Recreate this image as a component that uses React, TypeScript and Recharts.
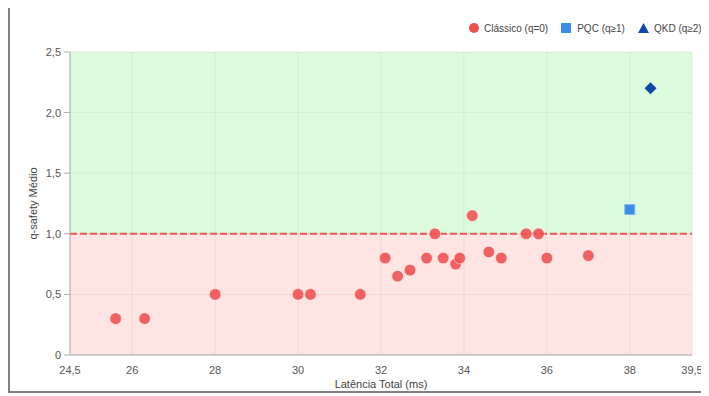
import React from 'react';
import {
  ScatterChart,
  Scatter,
  XAxis,
  YAxis,
  ZAxis,
  CartesianGrid,
  ReferenceArea,
} from 'recharts';

// latency (ms) / average q-safety
const classicLatency = [25.6, 26.3, 28.0, 30.0, 30.3, 31.5, 32.1, 32.4, 32.7, 33.1, 33.3, 33.5, 33.8, 33.9, 34.2, 34.6, 34.9, 35.5, 35.8, 36.0, 37.0];
const classicQ = [0.3, 0.3, 0.5, 0.5, 0.5, 0.5, 0.8, 0.65, 0.7, 0.8, 1.0, 0.8, 0.75, 0.8, 1.15, 0.85, 0.8, 1.0, 1.0, 0.8, 0.82];
const pqcLatency = [38.0];
const pqcQ = [1.2];
const qkdLatency = [38.5];
const qkdQ = [2.2];

const xDomain = [24.5, 39.5];
const yDomain = [0, 2.5];
const xTicks = [24.5, 26, 28, 30, 32, 34, 36, 38, 39.5];
const xTickLabels = ['24,5', '26', '28', '30', '32', '34', '36', '38', '39,5'];
const yTicks = [0, 0.5, 1, 1.5, 2, 2.5];
const yTickLabels = ['0', '0,5', '1,0', '1,5', '2,0', '2,5'];

const seriesNames = ['Clássico (q=0)', 'PQC (q≥1)', 'QKD (q≥2)'];
const threshold = 1;

const toPoints = (xs: number[], ys: number[]) => xs.map((x, i) => ({ x, y: ys[i] }));
// dashed threshold drawn as a line-only scatter so it sits above the shaded bands
const thresholdLine = xDomain.map((x) => ({ x, y: threshold }));

const RED = '#f04e4e';
const LINE_RED = '#f25555';
const BLUE = '#3a8ee8';
const NAVY = '#0d47a8';
const FONT = '"Liberation Sans", Arial, Helvetica, sans-serif';

const Dot = (props: any) => (
  <circle cx={props.cx} cy={props.cy} r={5.8} fill={RED} fillOpacity={0.88} stroke="#ffffff" strokeOpacity={0.5} strokeWidth={1} />
);
const Square = (props: any) => (
  <rect x={props.cx - 5} y={props.cy - 5} width={10} height={10} fill={BLUE} stroke="#7db4f0" strokeWidth={0.8} />
);
const Diamond = (props: any) => {
  const { cx, cy } = props;
  const r = 6;
  return <polygon points={`${cx},${cy - r} ${cx + r},${cy} ${cx},${cy + r} ${cx - r},${cy}`} fill={NAVY} />;
};
const NoMark = () => <g />;

function LegendBox() {
  const text = { fontSize: 10, color: '#444', fontFamily: FONT, marginLeft: 5, whiteSpace: 'nowrap' as const };
  return (
    <div style={{ position: 'absolute', left: 459, top: 13, display: 'flex', alignItems: 'center', height: 14, width: 250 }}>
      <svg width={10} height={10} style={{ flexShrink: 0 }}><circle cx={5} cy={5} r={5} fill={RED} /></svg>
      <span style={text}>{seriesNames[0]}</span>
      <svg width={10} height={10} style={{ marginLeft: 13, flexShrink: 0 }}><rect x={0} y={0} width={10} height={10} fill={BLUE} /></svg>
      <span style={{ ...text, marginLeft: 6 }}>{seriesNames[1]}</span>
      <svg width={11} height={10} style={{ marginLeft: 13, flexShrink: 0 }}><polygon points="5.5,0 11,10 0,10" fill={NAVY} /></svg>
      <span style={text}>{seriesNames[2]}</span>
    </div>
  );
}

export default function App() {
  const tick = { fontSize: 11, fill: '#555', fontFamily: FONT };
  return (
    <div
      style={{
        position: 'relative',
        marginTop: -2,
        width: 699,
        height: 383,
        borderTop: '2px solid #808080',
        borderLeft: '2px solid #808080',
        borderBottom: '2px solid #808080',
        background: '#fff',
        fontFamily: FONT,
        overflow: 'hidden',
      }}
    >
      <ScatterChart width={699} height={383} margin={{ top: 44, right: 17, bottom: 0, left: 0 }}>
        <ReferenceArea y1={0} y2={threshold} fill="rgb(255,110,110)" fillOpacity={0.19} stroke="none" />
        <ReferenceArea y1={threshold} y2={2.5} fill="rgb(150,240,150)" fillOpacity={0.33} stroke="none" />
        <CartesianGrid stroke="rgba(0,0,0,0.07)" strokeWidth={1} />
        <XAxis
          type="number"
          dataKey="x"
          domain={xDomain}
          ticks={xTicks}
          interval={0}
          height={36}
          tickLine={false}
          tickMargin={5}
          stroke="#aaa"
          tick={tick}
          tickFormatter={(v: number) => xTickLabels[xTicks.indexOf(v)] ?? String(v)}
          label={{ value: 'Latência Total (ms)', position: 'insideBottom', offset: 3, fontSize: 11, fill: '#444', fontFamily: FONT }}
        />
        <YAxis
          type="number"
          dataKey="y"
          domain={yDomain}
          ticks={yTicks}
          interval={0}
          width={60}
          tickSize={6}
          tickMargin={3}
          stroke="#aaa"
          tick={tick}
          tickFormatter={(v: number) => yTickLabels[yTicks.indexOf(v)] ?? String(v)}
          label={{ value: 'q-safety Médio', angle: -90, position: 'center', dx: -7, dy: 0, fontSize: 11, fill: '#444', fontFamily: FONT }}
        />
        <ZAxis range={[60, 60]} />
        <Scatter
          data={thresholdLine}
          shape={NoMark}
          fill={LINE_RED}
          stroke={LINE_RED}
          line={{ stroke: LINE_RED, strokeDasharray: '7 3', strokeWidth: 2, fill: 'none' }}
          legendType="none"
          isAnimationActive={false}
        />
        <Scatter name={seriesNames[0]} data={toPoints(classicLatency, classicQ)} shape={Dot} isAnimationActive={false} />
        <Scatter name={seriesNames[1]} data={toPoints(pqcLatency, pqcQ)} shape={Square} isAnimationActive={false} />
        <Scatter name={seriesNames[2]} data={toPoints(qkdLatency, qkdQ)} shape={Diamond} isAnimationActive={false} />
      </ScatterChart>
      <LegendBox />
    </div>
  );
}
